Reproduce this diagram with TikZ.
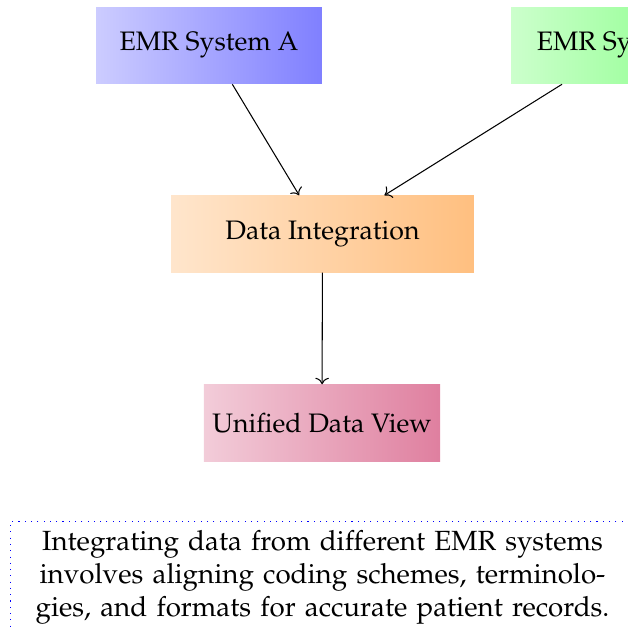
\documentclass[tikz,border=0pt]{standalone}
\usepackage[T1]{fontenc}
\usepackage{mathpazo}
\usetikzlibrary{arrows.meta}

% 1 unit = one pixel of the 628 x 627 canvas, y grows downwards
\tikzset{
  box/.style={rectangle, inner sep=0pt, minimum height=29.2pt, font=\fontsize{10.2}{12}\selectfont},
  boxA/.style={box, minimum width=86.3pt, left color=blue!20, right color=blue!50},
  boxB/.style={box, minimum width=86.3pt, left color=green!20, right color=green!50},
  boxI/.style={box, minimum width=115.7pt, left color=orange!20, right color=orange!50},
  boxU/.style={box, minimum width=90.2pt, left color=purple!20, right color=purple!50},
  flow/.style={->, line width=0.4pt},
  note/.style={draw=blue, dotted, rectangle, inner sep=3.33pt, text width=231.7pt,
    align=center, font=\fontsize{10.6}{12.7}\selectfont}
}

\begin{document}
\begin{tikzpicture}[x=0.382pt, y=-0.382pt]
  \useasboundingbox (0,0) rectangle (628,627);

  \node[boxA] (emrA) at (209,45.5) {EMR System A};
  \node[boxB] (emrB) at (624,45.5) {EMR System B};
  \node[boxI] (integ) at (322.5,234) {Data Integration};
  \node[boxU] (unified) at (322,423) {Unified Data View};

  \draw[flow] (emrA) -- (integ);
  \draw[flow] (emrB) -- (integ);
  \draw[flow] (integ) -- (unified);

  \node[note, anchor=north west] (caption) at (10,521)
    {Integrating data from different EMR systems\\
     involves aligning coding schemes, terminolo-\\
     gies, and formats for accurate patient records.};
\end{tikzpicture}
\end{document}
